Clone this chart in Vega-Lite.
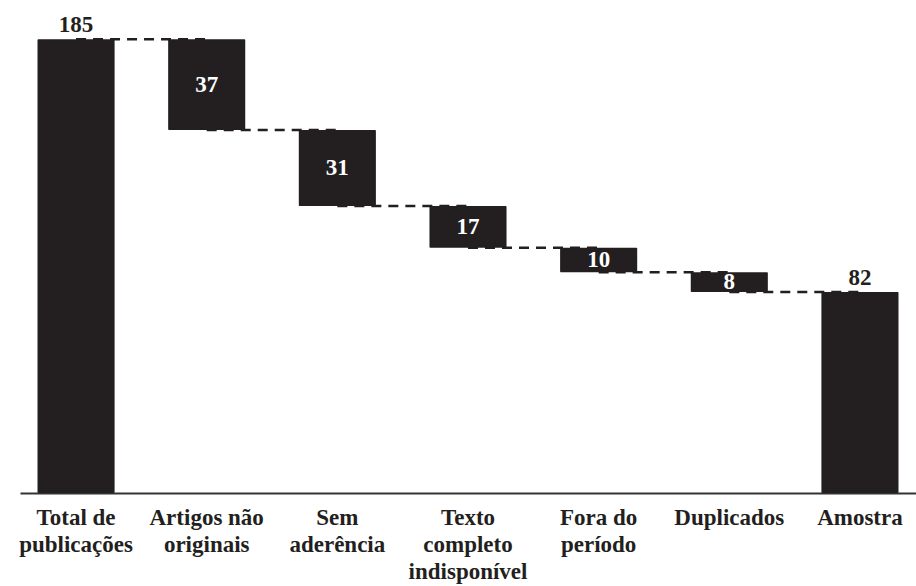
{
  "$schema": "https://vega.github.io/schema/vega-lite/v6.json",
  "autosize": {"type": "none"},
  "width": 896,
  "height": 493,
  "padding": {"left": 20, "top": 0, "right": 0, "bottom": 93},
  "background": "white",
  "config": {"view": {"stroke": null}},
  "data": {
    "values": [
      {"etapa": "Total de publicações", "inicio": 0, "fim": 185, "valor": 185, "tipo": "total", "proxima": "Artigos não originais", "nivel": 185},
      {"etapa": "Artigos não originais", "inicio": 148, "fim": 185, "valor": 37, "tipo": "delta", "proxima": "Sem aderência", "nivel": 148},
      {"etapa": "Sem aderência", "inicio": 117, "fim": 148, "valor": 31, "tipo": "delta", "proxima": "Texto completo indisponível", "nivel": 117},
      {"etapa": "Texto completo indisponível", "inicio": 100, "fim": 117, "valor": 17, "tipo": "delta", "proxima": "Fora do período", "nivel": 100},
      {"etapa": "Fora do período", "inicio": 90, "fim": 100, "valor": 10, "tipo": "delta", "proxima": "Duplicados", "nivel": 90},
      {"etapa": "Duplicados", "inicio": 82, "fim": 90, "valor": 8, "tipo": "delta", "proxima": "Amostra", "nivel": 82},
      {"etapa": "Amostra", "inicio": 0, "fim": 82, "valor": 82, "tipo": "total", "proxima": null, "nivel": null}
    ]
  },
  "encoding": {
    "x": {
      "field": "etapa",
      "type": "nominal",
      "sort": null,
      "scale": {"paddingInner": 0.41, "paddingOuter": 0.134},
      "axis": {
        "title": null,
        "ticks": false,
        "domainColor": "#333333",
        "domainWidth": 2,
        "labelAngle": 0,
        "labelFont": "Liberation Serif",
        "labelFontWeight": "bold",
        "labelFontSize": 23,
        "labelColor": "#231f20",
        "labelLineHeight": 27,
        "labelPadding": 13,
        "labelLimit": 0,
        "labelExpr": "datum.label == 'Total de publicações' ? ['Total de','publicações'] : datum.label == 'Artigos não originais' ? ['Artigos não','originais'] : datum.label == 'Sem aderência' ? ['Sem','aderência'] : datum.label == 'Texto completo indisponível' ? ['Texto','completo','indisponível'] : datum.label == 'Fora do período' ? ['Fora do','período'] : datum.label"
      }
    }
  },
  "layer": [
    {
      "transform": [{"filter": "datum.proxima != null"}],
      "mark": {"type": "rule", "strokeDash": [10, 7], "strokeWidth": 2.5, "color": "#231f20"},
      "encoding": {
        "x2": {"field": "proxima"},
        "y": {"field": "nivel", "type": "quantitative", "scale": {"domain": [0, 201], "nice": false}, "axis": null}
      }
    },
    {
      "mark": {"type": "bar", "color": "#231f20", "cornerRadius": 1},
      "encoding": {
        "y": {"field": "inicio", "type": "quantitative"},
        "y2": {"field": "fim"}
      }
    },
    {
      "transform": [
        {"filter": "datum.tipo == 'delta'"},
        {"calculate": "(datum.inicio + datum.fim) / 2", "as": "meio"}
      ],
      "mark": {"type": "text", "font": "Liberation Serif", "fontWeight": "bold", "fontSize": 23, "color": "white", "baseline": "middle"},
      "encoding": {
        "y": {"field": "meio", "type": "quantitative"},
        "text": {"field": "valor", "type": "quantitative"}
      }
    },
    {
      "transform": [{"filter": "datum.tipo == 'total'"}],
      "mark": {"type": "text", "font": "Liberation Serif", "fontWeight": "bold", "fontSize": 23, "color": "#231f20", "baseline": "alphabetic", "dy": -7},
      "encoding": {
        "y": {"field": "fim", "type": "quantitative"},
        "text": {"field": "valor", "type": "quantitative"}
      }
    }
  ]
}
